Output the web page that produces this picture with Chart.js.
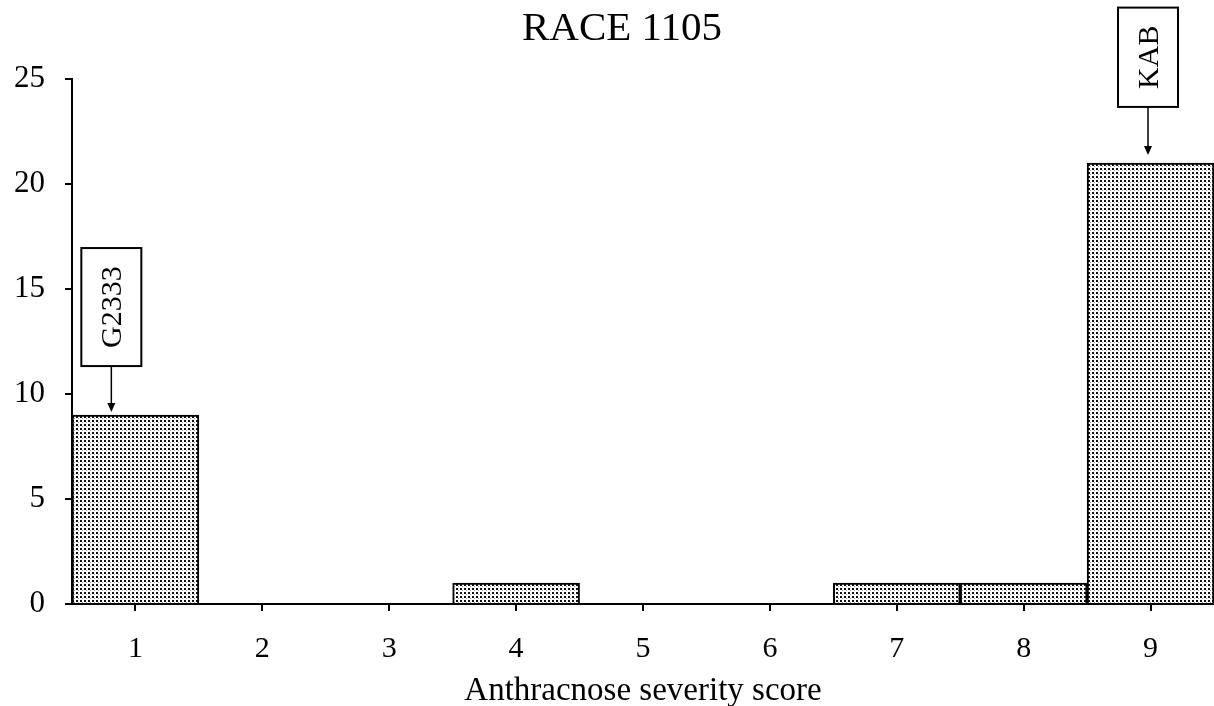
<!DOCTYPE html>
<html>
<head>
<meta charset="utf-8">
<script src="https://cdn.jsdelivr.net/npm/chart.js@4.4.1/dist/chart.umd.min.js"></script>
<style>
  html, body { margin: 0; padding: 0; background: #fff; }
  #wrap { width: 1214px; height: 706px; }
</style>
</head>
<body>
<div id="wrap"><canvas id="race"></canvas></div>
<script>
// Frequency of lines per severity score
const scores = ['1', '2', '3', '4', '5', '6', '7', '8', '9'];
const counts = [9, 0, 0, 1, 0, 0, 1, 1, 21];
const yTicks = [0, 5, 10, 15, 20, 25];
const chartTitle = 'RACE 1105';

// Labelled check cultivars: category offset, box top / bottom and arrow tip in count units
const callouts = [
  { text: 'G2333', x: -0.19, top: 16.95, bottom: 11.33, tip: 9.14 },
  { text: 'KAB', x: 7.98, top: 28.4, bottom: 23.67, tip: 21.38 }
];

const serif = '"Liberation Serif", "Times New Roman", serif';

// dotted fill used by the bars
function dotPattern() {
  const c = document.createElement('canvas');
  c.width = 4; c.height = 4;
  const g = c.getContext('2d');
  g.fillStyle = '#ffffff';
  g.fillRect(0, 0, 4, 4);
  g.fillStyle = '#111111';
  g.fillRect(0, 0, 2, 2);
  g.fillStyle = '#9a9a9a';
  g.fillRect(2, 2, 1, 1);
  return g.createPattern(c, 'repeat');
}

// main heading, drawn by hand so it can sit slightly left of the plot centre
const headingPlugin = {
  id: 'heading',
  afterDraw(chart) {
    const ctx = chart.ctx;
    ctx.save();
    ctx.font = '41px ' + serif;
    ctx.fillStyle = '#000';
    ctx.textAlign = 'center';
    ctx.textBaseline = 'middle';
    ctx.fillText(chartTitle, 622, 29);
    ctx.restore();
  }
};

const calloutPlugin = {
  id: 'callouts',
  afterDatasetsDraw(chart) {
    const { ctx, scales: { x, y } } = chart;
    ctx.save();
    callouts.forEach(c => {
      const cx = x.getPixelForValue(c.x);
      const top = y.getPixelForValue(c.top);
      const bottom = y.getPixelForValue(c.bottom);
      const tip = y.getPixelForValue(c.tip);
      const w = 60;
      ctx.fillStyle = '#fff';
      ctx.fillRect(cx - w / 2, top, w, bottom - top);
      ctx.strokeStyle = '#000';
      ctx.lineWidth = 2;
      ctx.strokeRect(cx - w / 2, top, w, bottom - top);
      // arrow
      ctx.lineWidth = 1.5;
      ctx.beginPath();
      ctx.moveTo(cx, bottom);
      ctx.lineTo(cx, tip - 6);
      ctx.stroke();
      ctx.beginPath();
      ctx.moveTo(cx - 4, tip - 9);
      ctx.lineTo(cx + 4, tip - 9);
      ctx.lineTo(cx, tip);
      ctx.closePath();
      ctx.fillStyle = '#000';
      ctx.fill();
      // rotated label
      ctx.save();
      ctx.translate(cx + 2, (top + bottom) / 2);
      ctx.rotate(-Math.PI / 2);
      ctx.font = '30px ' + serif;
      ctx.textAlign = 'center';
      ctx.textBaseline = 'middle';
      ctx.fillText(c.text, 0, 0);
      ctx.restore();
    });
    ctx.restore();
  }
};

new Chart(document.getElementById('race'), {
  type: 'bar',
  data: {
    labels: scores,
    datasets: [{
      data: counts,
      backgroundColor: dotPattern(),
      borderColor: '#000',
      borderWidth: 2,
      borderSkipped: 'bottom',
      barPercentage: 1,
      categoryPercentage: 1
    }]
  },
  options: {
    responsive: true,
    maintainAspectRatio: false,
    animation: false,
    layout: { padding: { left: 0, right: 0, top: 79, bottom: 0 } },
    plugins: {
      legend: { display: false },
      tooltip: { enabled: false },
      title: { display: false }
    },
    scales: {
      x: {
        grid: { display: true, offset: false, drawOnChartArea: false, drawTicks: true, tickLength: 7, color: '#000', lineWidth: 2 },
        border: { display: true, color: '#000', width: 2 },
        ticks: { color: '#000', padding: 20, font: { family: serif, size: 30 } },
        title: {
          display: true,
          text: 'Anthracnose severity score',
          color: '#000',
          font: { family: serif, size: 33 },
          padding: { top: 0, bottom: -5 }
        },
        afterFit: s => { s.height = 102; }
      },
      y: {
        min: 0,
        max: 25,
        afterBuildTicks: s => { s.ticks = yTicks.map(v => ({ value: v })); },
        grid: { display: true, drawOnChartArea: false, drawTicks: true, tickLength: 7, color: '#000', lineWidth: 2 },
        border: { display: true, color: '#000', width: 2 },
        ticks: { color: '#000', padding: 20, font: { family: serif, size: 31 } },
        afterFit: s => { s.width = 72; }
      }
    }
  },
  plugins: [calloutPlugin, headingPlugin]
});
</script>
</body>
</html>
